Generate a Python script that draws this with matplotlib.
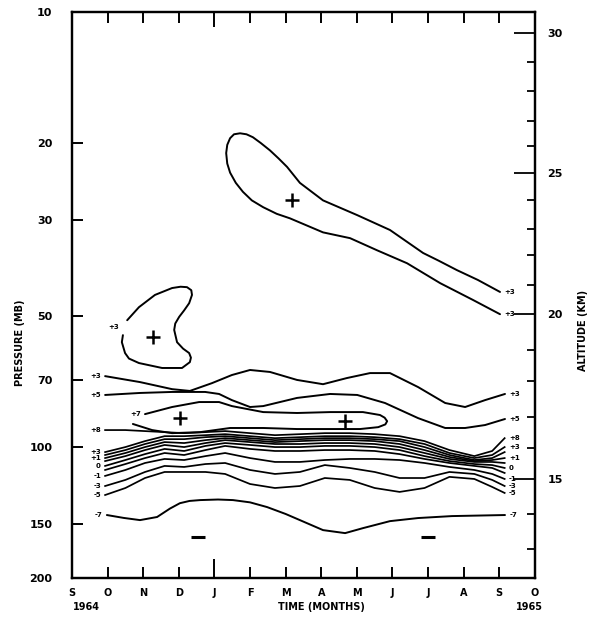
import matplotlib
matplotlib.use('Agg')
from matplotlib import pyplot as plt
from matplotlib.ticker import NullLocator

# axis data
months = ['S', 'O', 'N', 'D', 'J', 'F', 'M', 'A', 'M', 'J', 'J', 'A', 'S', 'O']
pressure_ticks = [10, 20, 30, 50, 70, 100, 150, 200]
altitude_km = [30, 29, 28, 27, 26, 25, 24, 23, 22, 21, 20, 19, 18, 17, 16, 15, 14, 13]
altitude_mb = [11.2, 13.0, 15.2, 17.8, 20.3, 23.4, 27.1, 31.5, 36.2, 42.4, 49.5,
               59.8, 70.5, 85.3, 100.5, 118.5, 142.6, 171.6]
altitude_labels = [30, 25, 20, 15]

# upper tongue (+3), open at the right edge
tongue_m = [12.02, 11.40, 10.81, 10.30, 9.86, 8.93, 8.01, 7.05, 6.40, 6.04, 5.80, 5.56,
            5.30, 5.08, 4.90, 4.72, 4.55, 4.44, 4.36, 4.33, 4.36, 4.44, 4.60, 4.80,
            5.05, 5.37, 5.75, 6.12, 7.05, 7.81, 8.57, 9.41, 10.34, 11.26, 12.02]
tongue_p = [44.0, 41.3, 39.2, 37.3, 35.8, 31.7, 29.3, 27.1, 24.7, 22.7, 21.7, 20.8,
            20.0, 19.4, 19.1, 19.0, 19.1, 19.5, 20.2, 21.1, 22.3, 23.4, 24.7, 25.9,
            27.1, 28.1, 29.1, 29.8, 32.1, 33.1, 35.3, 37.8, 42.0, 45.9, 49.5]

# small closed +3 cell near 50 mb
cell_m = [1.55, 1.88, 2.33, 2.81, 3.05, 3.23, 3.35, 3.37, 3.29, 3.15, 3.01, 2.90, 2.87,
          2.95, 3.12, 3.29, 3.34, 3.31, 3.09, 2.53, 1.88, 1.60, 1.49, 1.40, 1.43]
cell_p = [51.1, 47.7, 44.7, 43.1, 42.8, 42.9, 43.6, 44.7, 46.7, 48.5, 50.2, 52.0, 53.8,
          57.4, 59.4, 60.8, 62.3, 63.8, 65.8, 65.8, 64.1, 62.6, 60.8, 57.4, 55.3]

# +3 and +5 lines above the tropopause band
p3_m = [0.93, 1.91, 2.81, 3.31, 3.93, 4.49, 5.0, 5.56, 6.32, 7.05, 7.72, 8.37, 8.93,
        9.72, 10.48, 11.04, 11.60, 12.16]
p3_p = [68.7, 70.9, 73.6, 74.3, 71.3, 68.3, 66.5, 67.2, 70.1, 71.7, 69.4, 67.6, 67.6,
        72.8, 79.2, 80.9, 78.0, 75.5]
p5_m = [0.93, 1.91, 2.81, 3.74, 4.13, 4.49, 5.0, 5.37, 6.32, 7.25, 8.01, 8.79, 9.72,
        10.48, 11.04, 11.60, 12.16]
p5_p = [75.9, 75.1, 74.7, 74.7, 75.5, 78.0, 80.9, 80.5, 77.1, 75.5, 75.9, 79.2, 85.8,
        90.4, 90.4, 89.0, 86.2]

# +7 horseshoe, open to the left
p7_m = [1.71, 2.25, 2.81, 3.60, 4.44, 5.37, 6.32, 7.25, 8.09, 8.60, 8.80, 8.85, 8.78,
        8.65, 8.17, 7.25, 6.32, 5.37, 4.49, 4.13, 3.57, 2.81, 2.05]
p7_p = [88.5, 91.4, 92.9, 92.4, 90.4, 90.4, 90.9, 90.9, 90.9, 90.0, 88.7, 87.2, 85.6,
        84.4, 83.1, 83.1, 83.5, 83.1, 80.5, 78.8, 78.8, 80.9, 84.0]

# tropopause band, all lines share the same months
band_m = [0.93, 1.5, 2.05, 2.6, 3.15, 3.75, 4.3, 5.0, 5.7, 6.4, 7.1, 7.8, 8.5, 9.2,
          9.9, 10.6, 11.3, 11.8, 12.15]
band_p8 = [91.4, 91.4, 91.9, 92.4, 92.9, 92.4, 91.9, 92.9, 93.9, 93.4, 92.9, 92.9, 93.4,
           94.4, 96.9, 101.6, 104.9, 102.1, 95.4]
band_p3 = [102.7, 100.0, 96.9, 94.4, 94.4, 93.9, 93.4, 94.4, 95.4, 94.9, 94.4, 94.4, 94.9,
           95.9, 98.4, 103.2, 106.0, 104.3, 100.0]
band_p2 = [104.3, 101.6, 98.4, 95.9, 95.9, 94.9, 94.4, 95.4, 96.4, 95.9, 95.4, 95.4, 95.9,
           96.9, 100.0, 104.3, 107.1, 106.0, 102.7]
band_p1 = [106.0, 103.2, 100.0, 97.4, 97.9, 96.4, 95.4, 96.4, 97.4, 96.9, 96.4, 96.4, 96.9,
           98.4, 101.6, 105.4, 107.7, 107.1, 106.0]
band_half = [107.7, 104.9, 101.6, 98.9, 100.0, 97.9, 96.4, 97.4, 98.4, 98.4, 97.9, 97.9,
             98.4, 100.0, 103.2, 106.5, 108.2, 108.2, 108.8]
band_0 = [110.5, 107.1, 103.8, 101.0, 102.1, 99.4, 97.9, 98.9, 100.0, 100.0, 99.4, 99.4,
          100.0, 101.6, 104.9, 107.7, 109.4, 110.0, 111.7]
band_m0 = [112.9, 109.4, 106.0, 103.2, 104.3, 101.6, 99.4, 101.0, 102.1, 102.1, 101.6,
           101.6, 102.1, 103.8, 106.5, 108.8, 110.5, 111.7, 114.7]
band_m1 = [116.5, 112.9, 108.8, 106.5, 107.1, 104.9, 103.2, 106.0, 108.2, 108.2, 107.1,
           106.5, 106.5, 107.1, 108.8, 111.1, 112.9, 115.3, 118.4]
band_m3 = [122.9, 119.0, 114.1, 110.5, 111.1, 109.4, 108.8, 112.9, 115.3, 114.1, 110.0,
           111.7, 114.1, 117.8, 117.8, 114.1, 115.3, 119.0, 122.9]
band_m5 = [128.9, 124.2, 117.8, 114.1, 114.1, 114.1, 115.3, 121.6, 124.2, 122.9, 117.8,
           119.0, 124.2, 126.8, 124.2, 117.1, 118.4, 123.5, 127.5]

# -7 line below
m7_m = [0.98, 1.45, 1.91, 2.39, 2.75, 3.03, 3.30, 3.60, 4.10, 4.52, 5.0, 5.48, 6.00,
        6.40, 7.05, 7.67, 8.17, 8.93, 9.72, 10.67, 12.16]
m7_p = [143.3, 145.5, 147.2, 144.8, 138.5, 134.6, 133.0, 132.4, 132.0, 132.4, 134.0,
        137.4, 142.5, 147.2, 155.2, 157.7, 153.6, 148.0, 145.6, 144.1, 143.3]

# centres of warm (+) and cold (-) anomalies
plus_m = [6.18, 2.28, 3.03, 7.67]
plus_p = [27.1, 55.9, 85.8, 87.2]
minus_m = [3.54, 10.0]
minus_p = [161.0, 161.0]

fig = plt.figure(figsize=(5.95, 6.23), dpi=100)
ax = fig.add_axes([0.121, 0.0722, 0.778, 0.9085])
ax.set_yscale('log')
ax.set_xlim(0, 13)
ax.set_ylim(200, 10)

lw = 1.4
lines = [(tongue_m, tongue_p), (cell_m, cell_p), (p3_m, p3_p), (p5_m, p5_p),
         (p7_m, p7_p), (m7_m, m7_p)]
for xs, ys in lines:
    ax.plot(xs, ys, color='black', lw=lw, solid_capstyle='round', solid_joinstyle='round')
band = [band_p8, band_p3, band_p2, band_p1, band_half, band_0, band_m0, band_m1,
        band_m3, band_m5]
for ys in band:
    ax.plot(band_m, ys, color='black', lw=1.25, solid_joinstyle='round')

ax.plot(plus_m, plus_p, ls='none', marker='+', ms=10, mew=1.8, color='black')
ax.plot(minus_m, minus_p, ls='none', marker='_', ms=10, mew=2.2, color='black')

# contour labels
lab = dict(fontsize=5, fontweight='bold', va='center', textcoords='offset points')
def left_label(txt, x, y):
    ax.annotate(txt, (x, y), xytext=(-3, 0), ha='right', **lab)
def right_label(txt, x, y):
    ax.annotate(txt, (x, y), xytext=(3, 0), ha='left', **lab)

left_label('+3', cell_m[-1], 53.0)
left_label('+3', p3_m[0], p3_p[0])
left_label('+5', p5_m[0], p5_p[0])
left_label('+7', p7_m[-1], p7_p[-1])
left_label('+8', band_m[0], band_p8[0])
for txt, ys in [('+3', band_p3), ('+1', band_p1), ('0', band_0), ('-1', band_m1),
                ('-3', band_m3), ('-5', band_m5)]:
    left_label(txt, band_m[0], ys[0])
left_label('-7', m7_m[0], m7_p[0])

right_label('+3', tongue_m[0], tongue_p[0])
right_label('+3', tongue_m[-1], tongue_p[-1])
right_label('+3', p3_m[-1], p3_p[-1])
right_label('+5', p5_m[-1], p5_p[-1])
for txt, ys in [('+8', band_p8), ('+3', band_p3), ('+1', band_p1), ('0', band_0),
                ('-1', band_m1), ('-3', band_m3), ('-5', band_m5)]:
    right_label(txt, band_m[-1], ys[-1])
right_label('-7', m7_m[-1], m7_p[-1])

# twin axes: altitude scale on the right
ax2 = ax.twinx()
ax2.set_yscale('log')
ax2.set_ylim(200, 10)
ax2.set_yticks(altitude_mb)
ax2.set_yticklabels([str(a) if a in altitude_labels else '' for a in altitude_km],
                    fontsize=8, fontweight='bold')
ax2.yaxis.set_minor_locator(NullLocator())
ax2.tick_params(axis='y', direction='in', length=6, width=1.3, pad=9)
for a, t in zip(altitude_km, ax2.yaxis.get_major_ticks()):
    if a in altitude_labels:
        t.tick2line.set_markersize(15)
for s in ax2.spines.values():
    s.set_linewidth(1.6)

# main axes ticks: months on the bottom and top, pressure on the left
for s in ax.spines.values():
    s.set_linewidth(1.6)
ax.set_xticks(range(len(months)))
ax.set_xticklabels(months, fontsize=7, fontweight='bold')
ax.tick_params(axis='x', which='major', direction='in', length=8, width=1.4, pad=7,
               bottom=True, top=True, labelbottom=True, labeltop=False)
jan = ax.xaxis.get_major_ticks()[4]
jan.tick1line.set_markersize(14)
jan.tick2line.set_markersize(11)

ax.set_yticks(pressure_ticks)
ax.set_yticklabels([str(p) for p in pressure_ticks], fontsize=8, fontweight='bold')
ax.yaxis.set_minor_locator(NullLocator())
ax.tick_params(axis='y', direction='in', length=8, width=1.4, pad=14)

fig.text(0.034, 0.45, 'PRESSURE (MB)', rotation=90, ha='center', va='center',
         fontsize=7, fontweight='bold')
fig.text(0.98, 0.47, 'ALTITUDE (KM)', rotation=90, ha='center', va='center',
         fontsize=7, fontweight='bold')
fig.text(0.54, 0.026, 'TIME (MONTHS)', ha='center', va='center', fontsize=7,
         fontweight='bold')
fig.text(0.146, 0.026, '1964', ha='center', va='center', fontsize=7, fontweight='bold')
fig.text(0.889, 0.026, '1965', ha='center', va='center', fontsize=7, fontweight='bold')

plt.savefig('out.png', dpi=100)
